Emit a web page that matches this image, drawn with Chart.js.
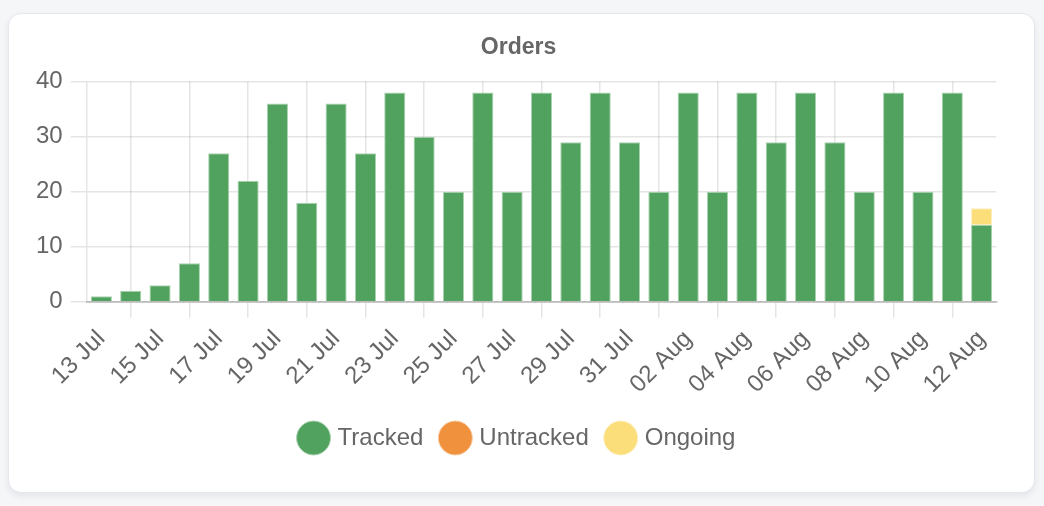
<!DOCTYPE html>
<html>
<head>
<meta charset="utf-8">
<script src="https://cdn.jsdelivr.net/npm/chart.js@4.4.1/dist/chart.umd.min.js"></script>
<style>
  html, body { margin: 0; padding: 0; background: #f5f6f8; }
  body { width: 1044px; height: 506px; position: relative; overflow: hidden; }
  .card {
    position: absolute; left: 8px; top: 13px; width: 1025px; height: 478px;
    background: #fff; border: 1px solid #e4e7ec; border-radius: 13px;
    box-shadow: 0 3px 6px rgba(30, 40, 60, 0.08);
  }
  .wrap { position: absolute; left: 19px; top: 0; width: 981px; height: 478px; }
</style>
</head>
<body>
<div class="card"><div class="wrap"><canvas id="orders"></canvas></div></div>
<script>
// days shown on the x axis
const days = [
  '13 Jul','14 Jul','15 Jul','16 Jul','17 Jul','18 Jul','19 Jul','20 Jul',
  '21 Jul','22 Jul','23 Jul','24 Jul','25 Jul','26 Jul','27 Jul','28 Jul',
  '29 Jul','30 Jul','31 Jul','01 Aug','02 Aug','03 Aug','04 Aug','05 Aug',
  '06 Aug','07 Aug','08 Aug','09 Aug','10 Aug','11 Aug','12 Aug'
];

// orders per day
const tracked = [
  1, 2, 3, 7, 27, 22, 36, 18, 36, 27, 38, 30, 20, 38, 20, 38,
  29, 38, 29, 20, 38, 20, 38, 29, 38, 29, 20, 38, 20, 38, 14
];
const untracked = [
  0, 0, 0, 0, 0, 0, 0, 0, 0, 0, 0, 0, 0, 0, 0, 0,
  0, 0, 0, 0, 0, 0, 0, 0, 0, 0, 0, 0, 0, 0, 0
];
const ongoing = [
  0, 0, 0, 0, 0, 0, 0, 0, 0, 0, 0, 0, 0, 0, 0, 0,
  0, 0, 0, 0, 0, 0, 0, 0, 0, 0, 0, 0, 0, 0, 3
];

const yTicks = [0, 10, 20, 30, 40];

const FONT = "'Liberation Sans', Arial, sans-serif";
const TXT = '#666';

new Chart(document.getElementById('orders'), {
  type: 'bar',
  data: {
    labels: days,
    datasets: [
      { label: 'Tracked',   data: tracked,   backgroundColor: '#52a25f', borderColor: '#a9d3b0', borderWidth: 1 },
      { label: 'Untracked', data: untracked, backgroundColor: '#f0913e', borderColor: '#f8c89e', borderWidth: 1 },
      { label: 'Ongoing',   data: ongoing,   backgroundColor: '#fbde7a', borderColor: '#fdeebc', borderWidth: 1 }
    ]
  },
  options: {
    responsive: true,
    maintainAspectRatio: false,
    animation: false,
    devicePixelRatio: 1,
    layout: { padding: { bottom: 32 } },
    plugins: {
      title: {
        display: true, text: 'Orders', color: TXT, padding: 20,
        font: { family: FONT, size: 23, weight: 'bold' }
      },
      legend: {
        position: 'bottom',
        labels: {
          usePointStyle: true, pointStyle: 'circle', padding: 20, color: TXT,
          font: { family: FONT, size: 24 }
        }
      },
      tooltip: { enabled: false }
    },
    scales: {
      x: {
        stacked: true,
        grid: { color: 'rgba(0,0,0,0.1)', lineWidth: 1.5, tickLength: 16 },
        border: { color: 'rgba(0,0,0,0.18)', width: 2 },
        ticks: {
          color: TXT, padding: 7, minRotation: 45, maxRotation: 45,
          autoSkip: true,
          font: { family: FONT, size: 24 }
        }
      },
      y: {
        stacked: true,
        min: yTicks[0], max: yTicks[yTicks.length - 1],
        afterBuildTicks: ax => { ax.ticks = yTicks.map(v => ({ value: v })); },
        grid: { color: 'rgba(0,0,0,0.1)', lineWidth: 1.5, tickLength: 16 },
        border: { color: 'rgba(0,0,0,0.1)', width: 1.5 },
        ticks: { color: TXT, padding: 8, font: { family: FONT, size: 24 } }
      }
    }
  }
});
</script>
</body>
</html>
